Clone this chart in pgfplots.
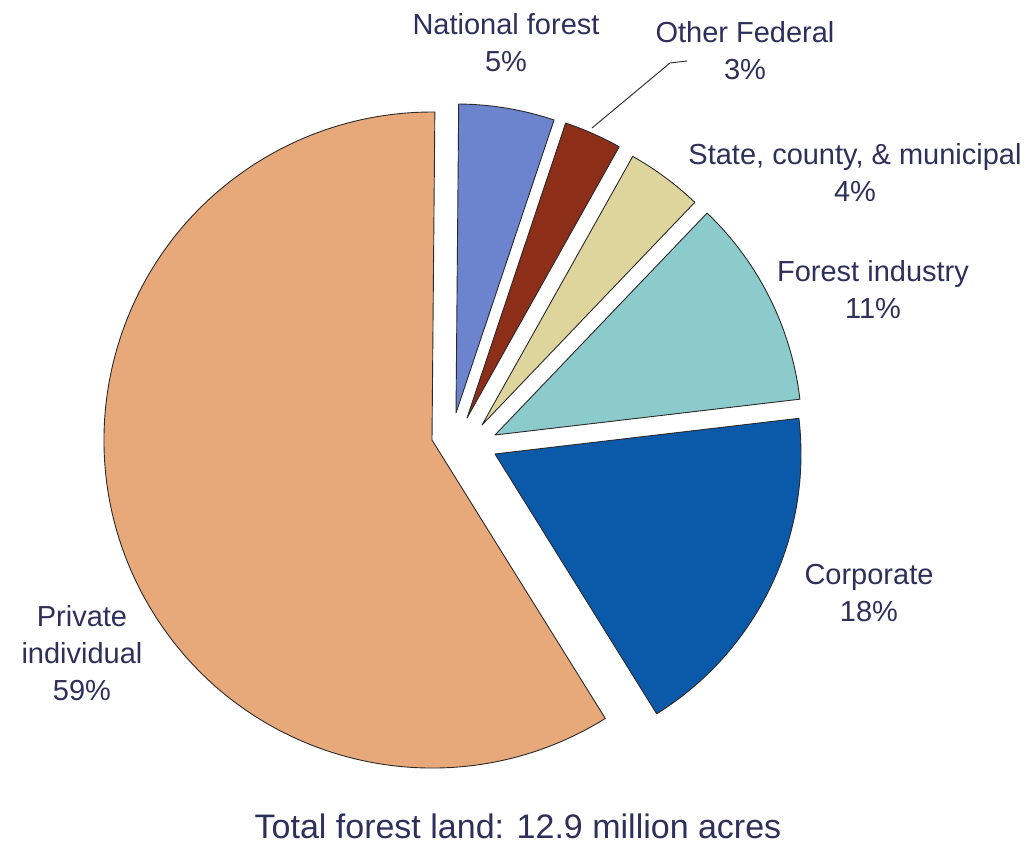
\documentclass[border=0pt]{standalone}
\usepackage{pgfplots}
\usepackage{pgfplotstable}
\pgfplotsset{compat=1.18}
\usepackage{fontspec}
\setmainfont{Liberation Sans}

\definecolor{txt}{HTML}{2F2F5C}
\definecolor{edge}{HTML}{2A2A2A}
\definecolor{wedge0}{HTML}{6C84CD}
\definecolor{wedge1}{HTML}{8C2E18}
\definecolor{wedge2}{HTML}{DDD59C}
\definecolor{wedge3}{HTML}{8CCBCB}
\definecolor{wedge4}{HTML}{0B59A9}
\definecolor{wedge5}{HTML}{E8A97A}

% ownership shares (percent), explode offset of each wedge and its radius
\pgfplotstableread{
owner share dx    dy    r
nat   5     3.3   21.1  309
oth   3     14.3  16.1  311
sta   4     29.3  9.1   308
ind   11    42.3  -0.9  307
cor   18    42.3  -19.9 306
pri   59    -20.7 -5.9  328
}\ownership

\begin{document}
\begin{tikzpicture}
\useasboundingbox (0,0) rectangle (1034pt,844pt);
\begin{axis}[
  at={(0,0)}, anchor=south west,
  width=1034pt, height=844pt, scale only axis,
  xmin=0, xmax=1034, ymin=0, ymax=844,
  hide axis, clip=false,
]
\xdef\angstart{89.5}
\pgfplotsinvokeforeach{0,...,5}{%
  \pgfplotstablegetelem{#1}{share}\of\ownership\edef\share{\pgfplotsretval}%
  \pgfplotstablegetelem{#1}{dx}\of\ownership\edef\dx{\pgfplotsretval}%
  \pgfplotstablegetelem{#1}{dy}\of\ownership\edef\dy{\pgfplotsretval}%
  \pgfplotstablegetelem{#1}{r}\of\ownership\edef\rr{\pgfplotsretval}%
  \pgfmathsetmacro\angend{\angstart-3.6*\share}%
  \pgfmathsetmacro\ax{452.7+\dx}%
  \pgfmathsetmacro\ay{409.9+\dy}%
  \edef\wedgepath{\noexpand\filldraw[fill=wedge#1, draw=edge, line width=0.9pt, line join=round]
    (axis cs:\ax,\ay) -- ++(\angstart:\rr pt)
    arc[start angle=\angstart, end angle=\angend, radius=\rr pt] -- cycle;}%
  \wedgepath
  \xdef\angstart{\angend}%
}

\tikzset{lbl/.style={text=txt, align=center, font=\fontsize{29}{37}\selectfont}}
\node[lbl] at (axis cs:506,801) {National forest\\5\%};
\node[lbl] at (axis cs:745,793) {Other Federal\\3\%};
\node[lbl] at (axis cs:855,671) {State, county, \& municipal\\4\%};
\node[lbl] at (axis cs:873,554) {Forest industry\\11\%};
\node[lbl] at (axis cs:869,251) {Corporate\\18\%};
\node[lbl] at (axis cs:82,190.5) {Private\\individual\\59\%};
\draw[edge, line width=0.9pt] (axis cs:592,716) -- (axis cs:670,781) -- (axis cs:687,783);
\node[text=txt, font=\fontsize{34}{40}\selectfont, anchor=base, inner sep=0pt]
  at (axis cs:518,6) {Total forest land: 12.9 million acres};
\end{axis}
\end{tikzpicture}
\end{document}
